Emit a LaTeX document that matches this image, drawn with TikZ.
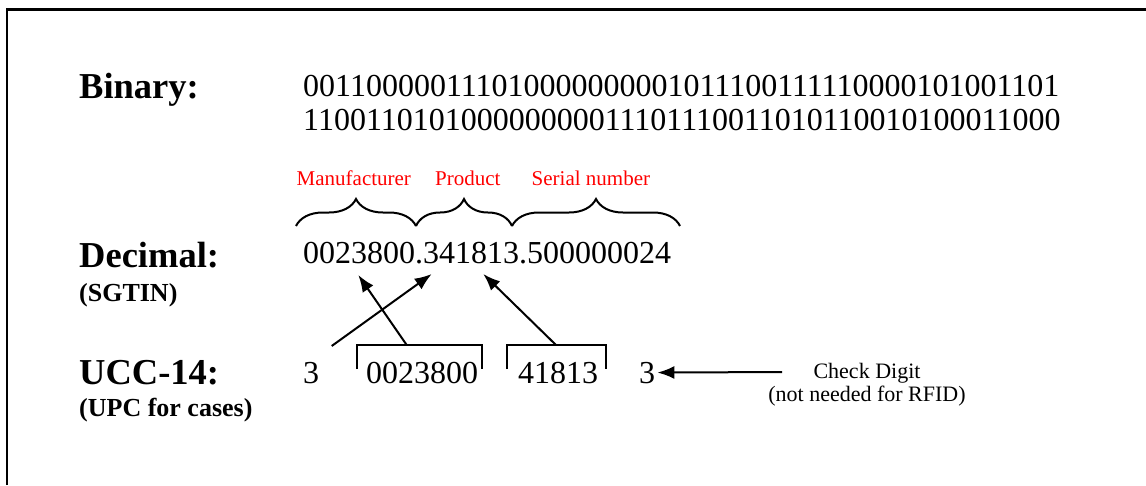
\documentclass[tikz,border=0pt]{standalone}
\usepackage{fontspec}
\setmainfont{Liberation Serif}
\usetikzlibrary{arrows.meta,decorations.pathreplacing}

\tikzset{
  txt/.style={inner sep=0pt, anchor=base west},
  head/.style={txt, font=\fontsize{36.5}{40}\selectfont\bfseries},
  subhead/.style={txt, font=\fontsize{26}{30}\selectfont\bfseries},
  digits/.style={txt, font=\fontsize{32}{36}\selectfont},
  field/.style={txt, text=red, font=\fontsize{21}{24}\selectfont},
  note/.style={inner sep=0pt, anchor=base, font=\fontsize{22}{25}\selectfont},
  rule/.style={line width=2.2pt},
  curly/.style={line width=2pt, decorate, decoration={brace, amplitude=27pt, aspect=0.5}},
  bracket/.style={line width=2pt},
  pointer/.style={line width=2pt, -{Latex[length=17pt,width=13pt]}},
}

\begin{document}
\begin{tikzpicture}[x=1pt,y=-1pt]
  \useasboundingbox (0,0) rectangle (1146,485);

  % open frame: top and left edges
  \draw[rule] (6.7,485) -- (6.7,9.5) -- (1146,9.5);

  % row headings
  \node[head] (hbin) at (79,98) {Binary:};
  \node[head] (hdec) at (79,267) {Decimal:};
  \node[subhead] (hsgtin) at (79,301) {(SGTIN)};
  \node[head] (hucc) at (79,384) {UCC-14:};
  \node[subhead] (hupc) at (79,416) {(UPC for cases)};

  % 96-bit binary value
  \node[digits] (bin1) at (303,96) {001100000111010000000001011100111110000101001101};
  \node[digits] (bin2) at (303,130) {110011010100000000011101110011010110010100011000};

  % field names and their braces
  \node[field] (fmfr) at (296.5,185) {Manufacturer};
  \node[field] (fprd) at (435,185) {Product};
  \node[field] (fser) at (531.5,185) {Serial number};
  \draw[curly] (296,226) -- (416,226);
  \draw[curly] (416,226) -- (512,226);
  \draw[curly] (512,226) -- (680,226);

  % SGTIN decimal form
  \node[digits] (dec) at (303,263) {0023800.341813.500000024};

  % UCC-14 digits
  \node[digits] (u3a) at (303,383) {3};
  \node[digits] (umfr) at (366,383) {0023800};
  \node[digits] (uprd) at (518,383) {41813};
  \node[digits] (u3b) at (639,383) {3};

  % brackets over the copied groups
  \draw[bracket] (357.3,369) -- (357.3,345) -- (481.7,345) -- (481.7,369);
  \draw[bracket] (507.3,369) -- (507.3,345) -- (606,345) -- (606,369);

  % where each group lands in the SGTIN
  \coordinate (from3) at (331.7,346);
  \coordinate (to3) at (431.7,274);
  \coordinate (fromMfr) at (406.7,345);
  \coordinate (toMfr) at (358.3,275);
  \coordinate (fromPrd) at (556,345);
  \coordinate (toPrd) at (483.3,274);
  \draw[pointer] (from3) -- (to3);
  \draw[pointer] (fromMfr) -- (toMfr);
  \draw[pointer] (fromPrd) -- (toPrd);

  % check digit note
  \node[note] (chk1) at (867,378) {Check Digit};
  \node[note] (chk2) at (867,401) {(not needed for RFID)};
  \coordinate (chkfrom) at (782,372);
  \draw[pointer] (chkfrom) -- ([xshift=2pt]u3b.east);
\end{tikzpicture}
\end{document}
